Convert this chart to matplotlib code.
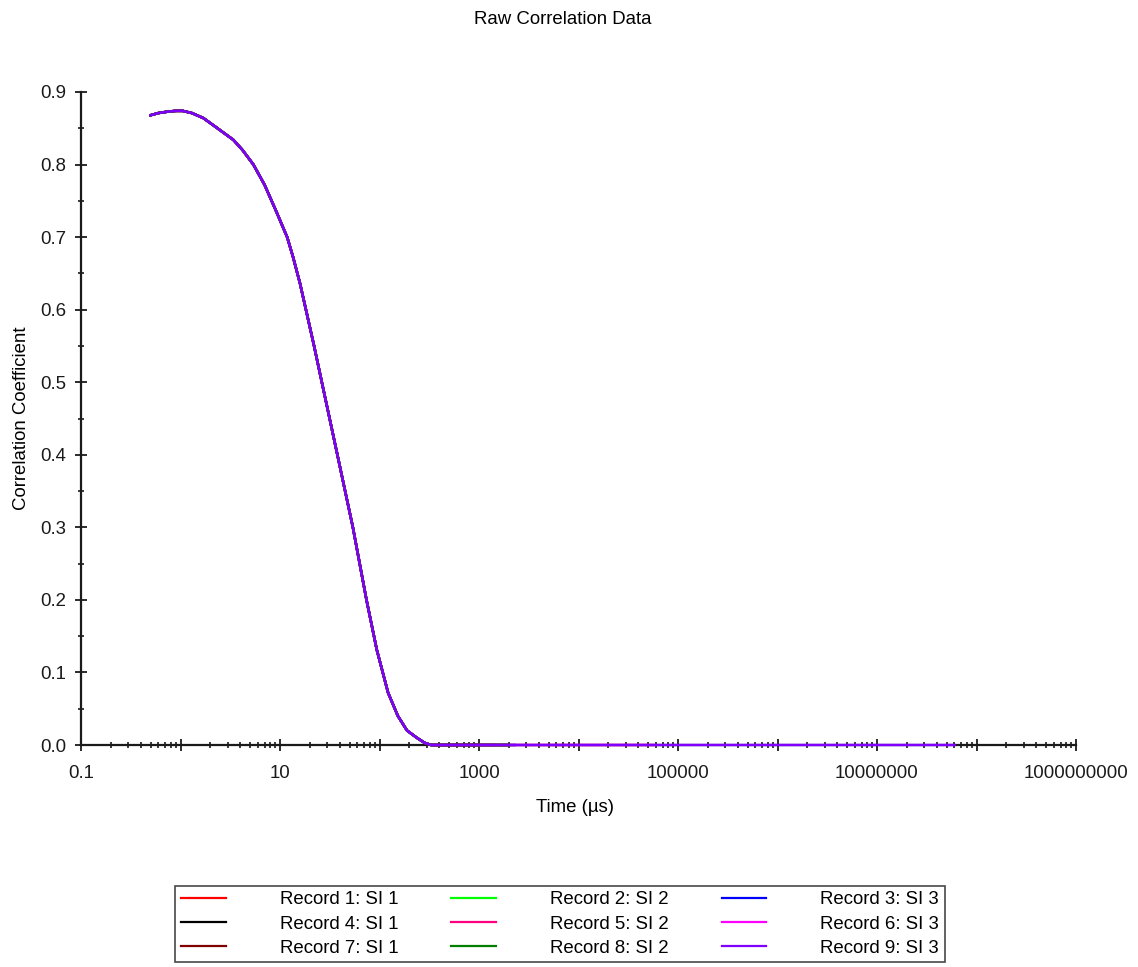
import matplotlib
matplotlib.use("Agg")
import matplotlib.pyplot as plt
from matplotlib.ticker import LogLocator, MultipleLocator, FixedLocator, NullFormatter

plt.rcParams["font.family"] = ["Liberation Sans", "DejaVu Sans"]

# Delay times (µs) and measured correlation coefficient
tau_us = [0.5, 0.6, 0.75, 0.9, 1.05, 1.3, 1.7, 2.3, 3.4, 4.2, 5.4, 7.0, 9.0,
          11.8, 13.5, 15.9, 18.5, 22, 27, 38, 54, 74, 94, 122, 153, 189, 237,
          284, 330, 500, 1000, 1500, 2000, 2300, 5000, 1e4, 2e4, 5.6e4, 1e5,
          1e6, 1e7, 6e7]
corr = [0.868, 0.871, 0.873, 0.874, 0.874, 0.871, 0.864, 0.851, 0.834, 0.820,
        0.800, 0.772, 0.738, 0.700, 0.673, 0.636, 0.596, 0.550, 0.493, 0.398,
        0.300, 0.200, 0.131, 0.072, 0.040, 0.020, 0.010, 0.003, 0.0,
        0.0, 0.0, 0.0, 0.0, 0.0, 0.0, 0.0, 0.0, 0.0, 0.0, 0.0, 0.0, 0.0]

records = ["Record 1: SI 1", "Record 2: SI 2", "Record 3: SI 3",
           "Record 4: SI 1", "Record 5: SI 2", "Record 6: SI 3",
           "Record 7: SI 1", "Record 8: SI 2", "Record 9: SI 3"]
record_colors = ["#FF0000", "#00FF00", "#0000FF",
                 "#000000", "#FF0080", "#FF00FF",
                 "#800000", "#008000", "#8000FF"]
# last delay time recorded for each measurement (µs)
record_end_us = [2000, 2000, 2300, 1000, 5.6e4, 1500, 2000, 2000, 6e7]

x_ticks = [0.1, 10, 1000, 100000, 10000000, 1000000000]
x_ticklabels = ["0.1", "10", "1000", "100000", "10000000", "1000000000"]

fig = plt.figure(figsize=(11.38, 9.67), dpi=100)
ax = fig.add_axes([81 / 1138, 1 - 745 / 967, (1076 - 81) / 1138, (745 - 92) / 967])

handles = []
for name, color, end in zip(records, record_colors, record_end_us):
    xs = [t for t in tau_us if t <= end]
    ys = corr[:len(xs)]
    line, = ax.plot(xs, ys, color=color, lw=1.8, label=name, zorder=3,
                    clip_on=False)
    handles.append(line)

ax.set_xscale("log")
ax.set_xlim(0.1, 1e9)
ax.set_ylim(0, 0.9)

# a long tick at every decade, labels on every second one
decades = [10.0 ** k for k in range(-1, 10)]
ax.xaxis.set_major_locator(FixedLocator(decades))
ax.xaxis.set_minor_locator(LogLocator(base=10, subs=range(2, 10), numticks=100))
ax.xaxis.set_minor_formatter(NullFormatter())
labels = []
for v in decades:
    match = [lab for t, lab in zip(x_ticks, x_ticklabels) if abs(t - v) / v < 1e-6]
    labels.append(match[0] if match else "")
ax.set_xticklabels(labels)

ax.yaxis.set_major_locator(MultipleLocator(0.1))
ax.yaxis.set_minor_locator(MultipleLocator(0.05))
ax.yaxis.set_major_formatter(plt.FuncFormatter(lambda v, p: "%.1f" % v))

for side in ("top", "right"):
    ax.spines[side].set_visible(False)
for side in ("left", "bottom"):
    ax.spines[side].set_linewidth(1.6)
    ax.spines[side].set_color("#1a1a1a")

ax.tick_params(which="major", direction="inout", length=9, width=1.3,
               labelsize=13.4, colors="#1a1a1a", pad=6)
ax.tick_params(which="minor", direction="inout", length=5, width=1.2,
               colors="#1a1a1a")
ax.tick_params(axis="x", which="major", pad=10)

fig.text(563 / 1138, 1 - 19 / 967, "Raw Correlation Data", ha="center",
         va="center", fontsize=13.4)
fig.text(575 / 1138, 1 - 807 / 967, "Time (µs)", ha="center", va="center",
         fontsize=13.4)
fig.text(22 / 1138, 1 - 418 / 967, "Correlation Coefficient", ha="center",
         va="center", rotation=90, fontsize=13.4)

order = [0, 3, 6, 1, 4, 7, 2, 5, 8]
leg = fig.legend([handles[i] for i in order], [records[i] for i in order],
                 loc="center", bbox_to_anchor=(560 / 1138, 1 - 924 / 967),
                 ncol=3, fontsize=13.4, frameon=True, fancybox=False,
                 edgecolor="#1a1a1a", handlelength=2.4, handletextpad=2.9,
                 columnspacing=2.85, labelspacing=0.39, borderpad=0.3,
                 borderaxespad=0)
leg.get_frame().set_linewidth(1.2)
for lh in leg.get_lines():
    lh.set_linewidth(1.6)

fig.savefig("out.png", dpi=100)
